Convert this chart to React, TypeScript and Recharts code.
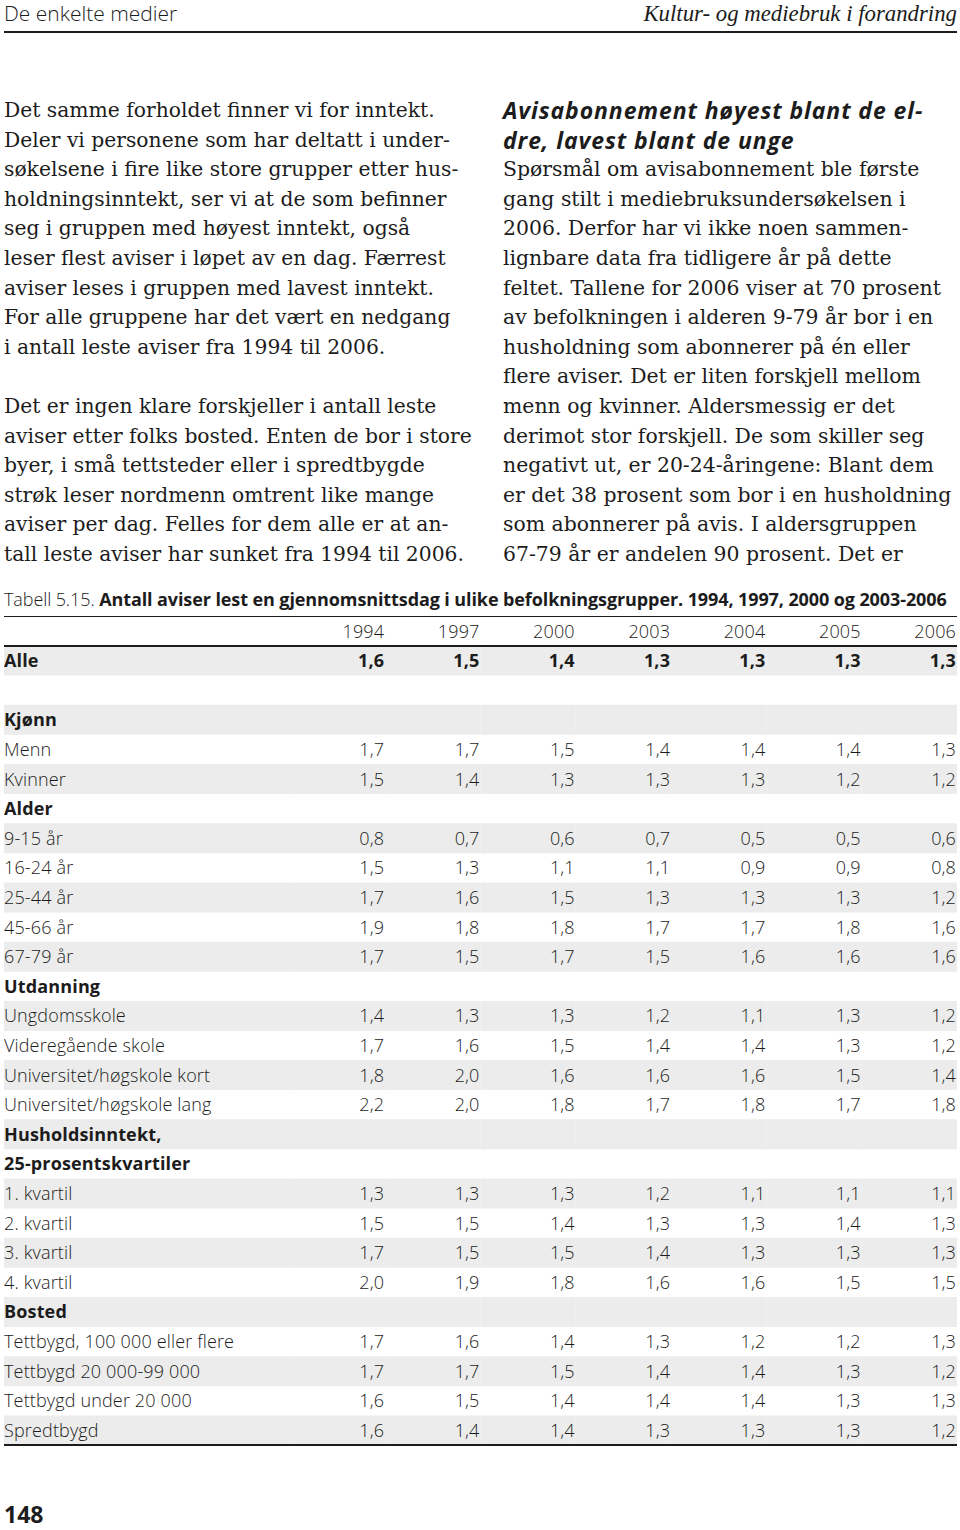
import React from 'react';
import { ComposedChart, Bar, Cell, LabelList, XAxis, YAxis } from 'recharts';

const years = ['1994', '1997', '2000', '2003', '2004', '2005', '2006'];

// row labels of the table (after the header row)
const rowLabels = [
  'Alle', '', 'Kjønn', 'Menn', 'Kvinner', 'Alder', '9-15 år', '16-24 år', '25-44 år', '45-66 år', '67-79 år',
  'Utdanning', 'Ungdomsskole', 'Videregående skole', 'Universitet/høgskole kort', 'Universitet/høgskole lang',
  'Husholdsinntekt,', '25-prosentskvartiler', '1. kvartil', '2. kvartil', '3. kvartil', '4. kvartil',
  'Bosted', 'Tettbygd, 100 000 eller flere', 'Tettbygd 20 000-99 000', 'Tettbygd under 20 000', 'Spredtbygd',
];
const boldLabels = ['Alle', 'Kjønn', 'Alder', 'Utdanning', 'Husholdsinntekt,', '25-prosentskvartiler', 'Bosted'];
const boldValueRows = ['Alle'];

const v1994 = [1.6, null, null, 1.7, 1.5, null, 0.8, 1.5, 1.7, 1.9, 1.7, null, 1.4, 1.7, 1.8, 2.2, null, null, 1.3, 1.5, 1.7, 2.0, null, 1.7, 1.7, 1.6, 1.6];
const v1997 = [1.5, null, null, 1.7, 1.4, null, 0.7, 1.3, 1.6, 1.8, 1.5, null, 1.3, 1.6, 2.0, 2.0, null, null, 1.3, 1.5, 1.5, 1.9, null, 1.6, 1.7, 1.5, 1.4];
const v2000 = [1.4, null, null, 1.5, 1.3, null, 0.6, 1.1, 1.5, 1.8, 1.7, null, 1.3, 1.5, 1.6, 1.8, null, null, 1.3, 1.4, 1.5, 1.8, null, 1.4, 1.5, 1.4, 1.4];
const v2003 = [1.3, null, null, 1.4, 1.3, null, 0.7, 1.1, 1.3, 1.7, 1.5, null, 1.2, 1.4, 1.6, 1.7, null, null, 1.2, 1.3, 1.4, 1.6, null, 1.3, 1.4, 1.4, 1.3];
const v2004 = [1.3, null, null, 1.4, 1.3, null, 0.5, 0.9, 1.3, 1.7, 1.6, null, 1.1, 1.4, 1.6, 1.8, null, null, 1.1, 1.3, 1.3, 1.6, null, 1.2, 1.4, 1.4, 1.3];
const v2005 = [1.3, null, null, 1.4, 1.2, null, 0.5, 0.9, 1.3, 1.8, 1.6, null, 1.3, 1.3, 1.5, 1.7, null, null, 1.1, 1.4, 1.3, 1.5, null, 1.2, 1.3, 1.3, 1.3];
const v2006 = [1.3, null, null, 1.3, 1.2, null, 0.6, 0.8, 1.2, 1.6, 1.6, null, 1.2, 1.2, 1.4, 1.8, null, null, 1.1, 1.3, 1.3, 1.5, null, 1.3, 1.2, 1.3, 1.2];
const series = [v1994, v1997, v2000, v2003, v2004, v2005, v2006];

const leftText1 = [
  'Det samme forholdet finner vi for inntekt.',
  'Deler vi personene som har deltatt i under-',
  'søkelsene i fire like store grupper etter hus-',
  'holdningsinntekt, ser vi at de som befinner',
  'seg i gruppen med høyest inntekt, også',
  'leser flest aviser i løpet av en dag. Færrest',
  'aviser leses i gruppen med lavest inntekt.',
  'For alle gruppene har det vært en nedgang',
  'i antall leste aviser fra 1994 til 2006.',
];
const leftText2 = [
  'Det er ingen klare forskjeller i antall leste',
  'aviser etter folks bosted. Enten de bor i store',
  'byer, i små tettsteder eller i spredtbygde',
  'strøk leser nordmenn omtrent like mange',
  'aviser per dag. Felles for dem alle er at an-',
  'tall leste aviser har sunket fra 1994 til 2006.',
];
const rightHeading = ['Avisabonnement høyest blant de el-', 'dre, lavest blant de unge'];
const rightText = [
  'Spørsmål om avisabonnement ble første',
  'gang stilt i mediebruksundersøkelsen i',
  '2006. Derfor har vi ikke noen sammen-',
  'lignbare data fra tidligere år på dette',
  'feltet. Tallene for 2006 viser at 70 prosent',
  'av befolkningen i alderen 9-79 år bor i en',
  'husholdning som abonnerer på én eller',
  'flere aviser. Det er liten forskjell mellom',
  'menn og kvinner. Aldersmessig er det',
  'derimot stor forskjell. De som skiller seg',
  'negativt ut, er 20-24-åringene: Blant dem',
  'er det 38 prosent som bor i en husholdning',
  'som abonnerer på avis. I aldersgruppen',
  '67-79 år er andelen 90 prosent. Det er',
];

const SANS = '"Open Sans", "DejaVu Sans", sans-serif';
const SERIF = '"DejaVu Serif", serif';
const INK = '#1c1c1c';
const STRIPE = '#ebeceb';
const LINE = 29.6;

const fmt = (v: number | null) => (v == null ? '' : v.toFixed(1).replace('.', ','));

const data = [
  (() => {
    const row: any = { key: 'header', lab: 3, label: '', labelBold: '', stripe: false };
    years.forEach((y, j) => { row['c' + j] = 1; row['t' + j] = y; row['b' + j] = ''; });
    return row;
  })(),
  ...rowLabels.map((label, i) => {
    const bold = boldLabels.includes(label);
    const boldVals = boldValueRows.includes(label);
    const row: any = {
      key: 'r' + i, lab: 3,
      label: bold ? '' : label,
      labelBold: bold ? label : '',
      stripe: i % 2 === 0,
    };
    series.forEach((s, j) => {
      row['c' + j] = 1;
      row['t' + j] = boldVals ? '' : fmt(s[i]);
      row['b' + j] = boldVals ? fmt(s[i]) : '';
    });
    return row;
  }),
];

const box = (p: any) => {
  const vb = p.viewBox && p.viewBox.width != null ? p.viewBox : p;
  return { x: Number(vb.x), y: Number(vb.y), width: Number(vb.width), height: Number(vb.height) };
};

const makeLabel = (anchor: 'start' | 'end', weight: number) => (p: any) => {
  if (!p.value) return null;
  const { x, y, width, height } = box(p);
  const tx = anchor === 'start' ? x : x + width - 1;
  return (
    <text x={tx} y={y + height / 2 + 6.5} textAnchor={anchor} fontFamily={SANS} fontSize={18}
      fontWeight={weight} fill={INK} style={{ letterSpacing: '0.15px' }}>
      {p.value}
    </text>
  );
};

const labelNormal = makeLabel('start', 300);
const labelBold = makeLabel('start', 700);
const valueNormal = makeLabel('end', 300);
const valueBold = makeLabel('end', 700);

const lineStyle: React.CSSProperties = { whiteSpace: 'nowrap', height: LINE, lineHeight: LINE + 'px' };

const App = () => {
  return (
    <div style={{ position: 'absolute', left: 0, top: 0, width: 960, height: 1530, background: '#fff', color: INK, overflow: 'hidden' }}>
      {/* running head */}
      <div style={{ position: 'absolute', left: 4, top: 0, fontFamily: SANS, fontWeight: 300, fontSize: 21, lineHeight: '27px' }}>
        De enkelte medier
      </div>
      <div style={{ position: 'absolute', right: 3, top: 0, fontFamily: '"Liberation Serif", serif', fontStyle: 'italic', fontSize: 22.8, lineHeight: '27px' }}>
        Kultur- og mediebruk i forandring
      </div>
      <div style={{ position: 'absolute', left: 4, top: 31, width: 953, height: 2, background: INK }} />

      {/* left column */}
      <div style={{ position: 'absolute', left: 4, top: 96, fontFamily: SERIF, fontSize: 20.3 }}>
        {leftText1.map((t, i) => <div key={i} style={lineStyle}>{t}</div>)}
        <div style={lineStyle} />
        {leftText2.map((t, i) => <div key={i} style={lineStyle}>{t}</div>)}
      </div>

      {/* right column */}
      <div style={{ position: 'absolute', left: 503, top: 96 }}>
        {rightHeading.map((t, i) => (
          <div key={i} style={{ ...lineStyle, fontFamily: SANS, fontWeight: 700, fontStyle: 'italic', fontSize: 23, letterSpacing: '0.9px' }}>{t}</div>
        ))}
        {rightText.map((t, i) => (
          <div key={i} style={{ ...lineStyle, fontFamily: SERIF, fontSize: 20.4 }}>{t}</div>
        ))}
      </div>

      {/* table caption */}
      <div style={{ position: 'absolute', left: 4, top: 585, fontFamily: SANS, fontSize: 18, lineHeight: LINE + 'px', whiteSpace: 'nowrap', letterSpacing: '-0.1px' }}>
        <span style={{ fontWeight: 300 }}>Tabell 5.15. </span>
        <span style={{ fontWeight: 700 }}>Antall aviser lest en gjennomsnittsdag i ulike befolkningsgrupper. 1994, 1997, 2000 og 2003-2006</span>
      </div>

      {/* table */}
      <div style={{ position: 'absolute', left: 4, top: 616, width: 953, height: 829 }}>
        <ComposedChart width={953} height={829} data={data} layout="vertical"
          margin={{ top: 0, right: 0, bottom: 0, left: 0 }} barCategoryGap={0} barGap={0}>
          <XAxis type="number" domain={[0, 10]} hide />
          <YAxis type="category" dataKey="key" hide />
          <Bar dataKey="lab" stackId="row" isAnimationActive={false}>
            {data.map((d, i) => <Cell key={i} fill={d.stripe ? STRIPE : 'transparent'} />)}
            <LabelList dataKey="label" content={labelNormal} />
            <LabelList dataKey="labelBold" content={labelBold} />
          </Bar>
          {years.map((y, j) => (
            <Bar key={y} dataKey={'c' + j} stackId="row" isAnimationActive={false}>
              {data.map((d, i) => <Cell key={i} fill={d.stripe ? STRIPE : 'transparent'} />)}
              <LabelList dataKey={'t' + j} content={valueNormal} />
              <LabelList dataKey={'b' + j} content={valueBold} />
            </Bar>
          ))}
        </ComposedChart>
        <div style={{ position: 'absolute', left: 0, top: 0, width: 953, height: 1, background: INK }} />
        <div style={{ position: 'absolute', left: 0, top: 29, width: 953, height: 2, background: INK }} />
        <div style={{ position: 'absolute', left: 0, top: 828, width: 953, height: 2, background: INK }} />
      </div>

      {/* page number */}
      <div style={{ position: 'absolute', left: 4, top: 1501, fontFamily: SANS, fontWeight: 700, fontSize: 23, lineHeight: '27px' }}>
        148
      </div>
    </div>
  );
};

export default App;
